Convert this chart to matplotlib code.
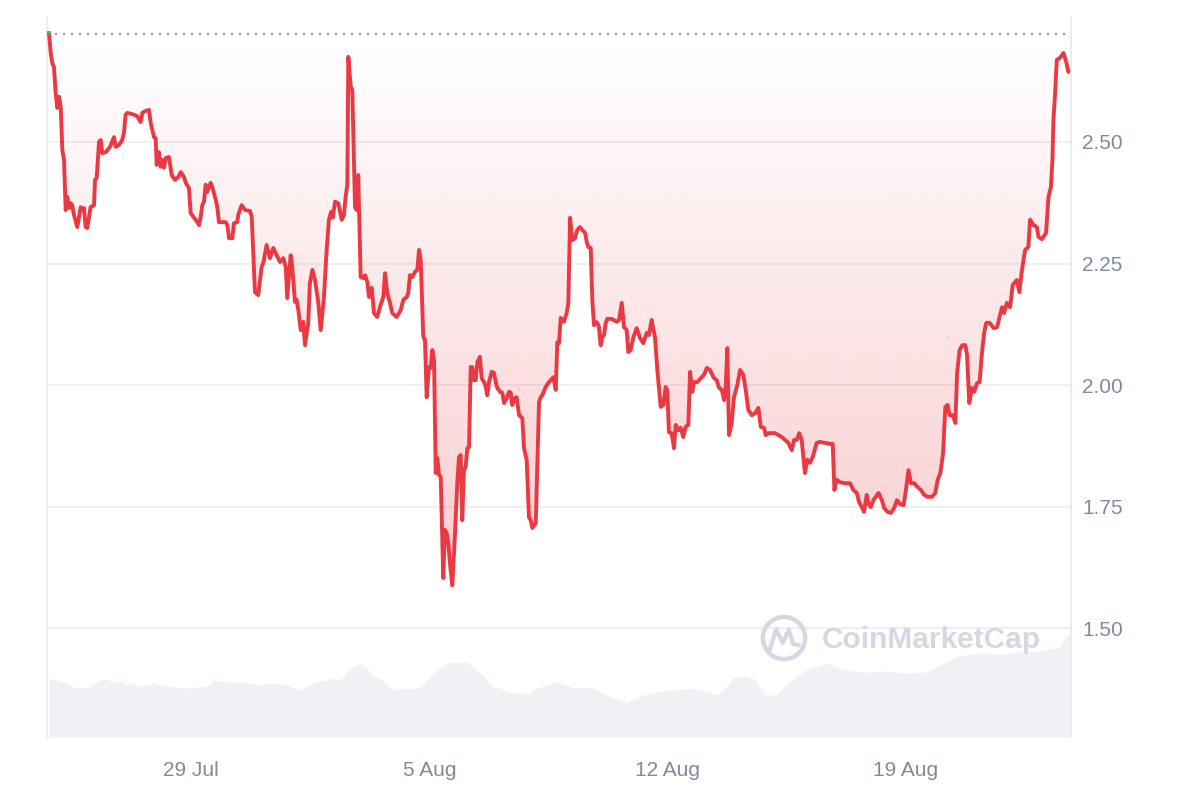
import numpy as np
import pandas as pd
import matplotlib
matplotlib.use("Agg")
import matplotlib.pyplot as plt
import matplotlib.dates as mdates
from matplotlib.patches import Polygon, Circle, Rectangle

# ---------------- data ----------------
start_time = pd.Timestamp("2024-07-24 19:30")

price_hours = [
    0.0, 1.2, 2.3, 3.5, 4.7, 5.9, 7.1, 8.3, 9.4, 10.6, 11.8, 12.9, 14.1, 15.3, 16.4, 17.6, 20.0, 22.4, 23.5, 24.7,
    25.9, 27.0, 29.4, 31.8, 32.5, 33.7, 35.3, 36.5, 37.6, 40.0, 43.1, 45.9, 47.1, 49.4, 51.7, 52.9, 54.1, 55.3, 57.7, 60.0,
    62.3, 64.7, 65.9, 68.3, 70.6, 71.8, 74.1, 75.3, 76.0, 77.6, 78.8, 80.0, 81.2, 82.4, 84.7, 86.6, 88.9, 91.3, 93.0, 95.3,
    96.5, 98.8, 100.0, 102.4, 104.7, 105.9, 107.1, 108.2, 109.4, 110.6, 111.7, 114.1, 115.3, 117.7, 118.8, 120.0, 122.3, 124.7, 125.9, 127.1,
    129.4, 130.6, 132.9, 133.6, 136.0, 138.4, 141.9, 143.1, 145.4, 147.7, 150.1, 151.3, 153.6, 156.0, 158.3, 160.7, 163.1, 165.4, 167.1, 168.2,
    170.6, 171.7, 173.6, 174.8, 176.0, 177.7, 179.5, 180.7, 183.0, 184.2, 185.9, 187.8, 190.1, 191.8, 194.1, 196.0, 197.6, 199.1, 200.3, 201.9,
    204.2, 206.6, 208.2, 209.4, 210.6, 211.3, 213.0, 214.1, 216.0, 217.2, 218.3, 220.0, 221.9, 223.1, 224.7, 225.9, 227.8, 229.4, 231.7, 233.6,
    236.0, 237.2, 238.8, 240.7, 242.3, 245.4, 248.3, 250.1, 252.5, 253.6, 254.8, 256.4, 258.4, 260.0, 261.2, 262.4, 264.2, 265.4, 266.6, 268.2,
    269.4, 270.6, 271.8, 273.0, 274.1, 275.3, 276.5, 278.3, 279.5, 280.7, 281.9, 283.1, 284.7, 286.6, 288.2, 289.4, 290.6, 291.7, 292.9, 294.1,
    295.3, 296.5, 297.7, 298.8, 300.0, 301.2, 302.4, 304.2, 305.4, 307.1, 308.3, 309.4, 310.6, 312.5, 314.1, 315.3, 316.4, 318.4, 320.0, 321.2,
    323.1, 324.7, 325.9, 327.0, 328.9, 330.1, 331.8, 334.1, 335.3, 337.2, 338.8, 340.0, 341.2, 343.6, 345.9, 347.1, 348.2, 350.6, 352.4, 354.1,
    356.0, 357.7, 358.8, 360.0, 361.2, 363.5, 365.4, 366.6, 367.8, 369.4, 371.3, 372.9, 374.8, 376.4, 378.4, 379.6, 380.7, 382.4, 383.5, 384.7,
    385.9, 387.0, 388.2, 389.4, 390.6, 391.8, 393.0, 394.1, 397.2, 400.8, 402.4, 404.3, 405.9, 407.8, 408.9, 410.6, 412.4, 414.8, 417.2, 419.5,
    421.9, 423.5, 425.4, 427.8, 429.4, 431.8, 433.6, 435.3, 436.4, 437.6, 439.5, 441.2, 442.4, 444.2, 445.9, 447.7, 449.4, 451.3, 452.5, 454.1,
    455.3, 457.6, 460.0, 462.4, 464.3, 466.6, 469.0, 471.3, 473.0, 474.9, 476.5, 477.7, 478.8, 480.0, 481.9, 483.5, 485.9, 487.8, 490.1, 491.8,
    493.6, 496.0, 498.4, 500.7, 502.4, 504.7, 505.9, 507.8, 510.2, 512.5, 514.8, 517.2, 519.5, 521.9, 524.3, 525.9, 527.8, 529.6, 531.3, 533.6,
    535.3, 537.2, 539.1, 541.9, 544.2, 547.8, 551.3, 553.2, 554.4, 556.0, 558.4, 561.9, 565.4, 567.8, 570.2, 571.8, 573.7, 575.3, 577.2, 578.4,
    580.1, 581.9, 585.5, 587.9, 589.5, 591.9, 594.3, 596.6, 598.5, 600.8, 603.2, 604.9, 606.7, 608.4, 610.8, 613.1, 615.5, 617.8, 620.2, 623.3,
    625.6, 627.3, 629.2, 631.1, 632.7, 634.3, 635.7, 637.9, 639.8, 641.0, 642.8, 644.7, 646.8, 648.0, 649.6, 651.5, 653.1, 655.1, 656.9, 658.6,
    660.2, 661.6, 664.0, 666.8, 669.2, 671.0, 672.7, 674.1, 676.2, 678.4, 680.3, 683.1, 685.0, 686.6, 689.0, 691.3, 692.5, 694.9, 697.3, 698.4,
    700.8, 703.8, 705.5, 707.2, 708.3, 709.0, 710.2, 711.4, 713.7, 716.1, 718.0, 719.6,
]

price_values = [
    2.724, 2.683, 2.663, 2.654, 2.601, 2.570, 2.593, 2.572, 2.484, 2.463, 2.360, 2.387, 2.364, 2.374, 2.370, 2.350, 2.325, 2.366, 2.360, 2.364,
    2.325, 2.323, 2.366, 2.370, 2.422, 2.426, 2.500, 2.504, 2.477, 2.479, 2.490, 2.510, 2.490, 2.494, 2.504, 2.519, 2.556, 2.560, 2.558, 2.556,
    2.553, 2.541, 2.560, 2.564, 2.566, 2.539, 2.510, 2.508, 2.453, 2.479, 2.449, 2.463, 2.447, 2.467, 2.469, 2.432, 2.422, 2.428, 2.438, 2.428,
    2.416, 2.405, 2.354, 2.344, 2.335, 2.329, 2.346, 2.370, 2.377, 2.412, 2.397, 2.416, 2.407, 2.381, 2.366, 2.335, 2.335, 2.335, 2.329, 2.302,
    2.302, 2.333, 2.335, 2.350, 2.370, 2.360, 2.358, 2.346, 2.191, 2.185, 2.243, 2.251, 2.288, 2.261, 2.282, 2.267, 2.253, 2.261, 2.243, 2.179,
    2.267, 2.243, 2.171, 2.175, 2.154, 2.113, 2.130, 2.082, 2.128, 2.210, 2.237, 2.216, 2.169, 2.113, 2.181, 2.278, 2.340, 2.356, 2.344, 2.377,
    2.374, 2.340, 2.350, 2.387, 2.412, 2.675, 2.613, 2.607, 2.366, 2.360, 2.432, 2.222, 2.220, 2.226, 2.212, 2.181, 2.200, 2.148, 2.140, 2.160,
    2.181, 2.230, 2.189, 2.169, 2.148, 2.140, 2.154, 2.175, 2.181, 2.189, 2.226, 2.222, 2.233, 2.237, 2.278, 2.257, 2.099, 2.093, 1.975, 2.037,
    2.035, 2.072, 2.051, 1.819, 1.850, 1.815, 1.811, 1.603, 1.702, 1.695, 1.675, 1.630, 1.588, 1.695, 1.798, 1.852, 1.856, 1.722, 1.825, 1.831,
    1.870, 1.872, 2.037, 2.037, 2.010, 2.010, 2.047, 2.058, 2.014, 2.006, 1.996, 1.979, 2.006, 2.027, 2.025, 2.006, 1.994, 1.986, 1.984, 1.963,
    1.973, 1.986, 1.984, 1.959, 1.973, 1.975, 1.938, 1.932, 1.870, 1.846, 1.728, 1.722, 1.706, 1.716, 1.965, 1.975, 1.979, 1.996, 2.004, 2.010,
    2.016, 1.990, 2.088, 2.086, 2.138, 2.130, 2.148, 2.169, 2.344, 2.298, 2.302, 2.319, 2.325, 2.319, 2.313, 2.294, 2.284, 2.282, 2.175, 2.123,
    2.130, 2.128, 2.119, 2.082, 2.099, 2.103, 2.128, 2.136, 2.136, 2.130, 2.134, 2.169, 2.119, 2.113, 2.068, 2.072, 2.097, 2.117, 2.097, 2.086,
    2.107, 2.103, 2.134, 2.097, 2.031, 1.955, 1.959, 1.996, 1.990, 1.903, 1.901, 1.870, 1.918, 1.907, 1.912, 1.893, 1.914, 1.918, 2.027, 1.986,
    2.006, 2.006, 2.014, 2.021, 2.035, 2.031, 2.016, 2.010, 1.994, 1.990, 1.969, 1.996, 2.076, 1.897, 1.922, 1.975, 2.000, 2.031, 2.021, 1.990,
    1.949, 1.938, 1.942, 1.953, 1.914, 1.912, 1.897, 1.901, 1.901, 1.901, 1.897, 1.893, 1.887, 1.881, 1.866, 1.887, 1.887, 1.901, 1.887, 1.819,
    1.846, 1.840, 1.852, 1.881, 1.883, 1.881, 1.879, 1.879, 1.784, 1.805, 1.800, 1.798, 1.798, 1.784, 1.778, 1.759, 1.749, 1.739, 1.774, 1.757,
    1.749, 1.763, 1.778, 1.763, 1.747, 1.739, 1.737, 1.747, 1.763, 1.755, 1.753, 1.784, 1.825, 1.798, 1.798, 1.790, 1.784, 1.774, 1.770, 1.770,
    1.778, 1.805, 1.819, 1.860, 1.955, 1.959, 1.938, 1.938, 1.922, 2.025, 2.072, 2.082, 2.082, 2.062, 1.963, 1.994, 1.986, 2.004, 2.006, 2.068,
    2.109, 2.128, 2.128, 2.117, 2.119, 2.140, 2.160, 2.148, 2.169, 2.160, 2.206, 2.216, 2.191, 2.233, 2.278, 2.284, 2.340, 2.329, 2.325, 2.305,
    2.300, 2.313, 2.387, 2.407, 2.463, 2.545, 2.601, 2.669, 2.673, 2.683, 2.665, 2.644,
]

volume_hours = [
    0.0, 9.9, 16.9, 26.8, 36.0, 40.9, 44.5, 52.2, 55.1, 59.3, 64.2, 73.4, 78.4, 87.5, 99.5, 111.5, 115.8, 122.8, 129.9, 134.8,
    148.9, 158.1, 168.0, 172.2, 177.2, 186.4, 189.2, 196.2, 200.5, 205.4, 210.4, 214.6, 219.5, 224.5, 228.7, 233.6, 238.6, 242.8, 247.8, 252.7,
    256.9, 261.9, 266.8, 271.1, 276.0, 280.9, 285.2, 290.1, 295.1, 299.3, 304.2, 309.2, 313.4, 318.4, 323.3, 332.5, 337.4, 341.6, 346.6, 351.5,
    358.6, 371.3, 381.9, 391.1, 398.1, 408.0, 418.6, 429.2, 439.8, 455.3, 471.5, 479.3, 484.2, 491.3, 497.6, 505.4, 513.2, 518.8, 526.6, 534.4,
    549.9, 560.5, 576.0, 590.1, 604.2, 618.4, 628.9, 639.5, 655.1, 671.3, 685.4, 696.7, 702.4, 713.0, 717.9, 720.7,
]
# 24h volume, millions USD (approximate)
volume_values = [
    59, 55, 50, 49, 57, 58, 55, 56, 52, 54, 50, 54, 52, 50, 49, 51, 57, 56, 54, 55,
    52, 54, 52, 49, 47, 54, 56, 57, 59, 57, 65, 70, 74, 69, 60, 59, 52, 47, 48, 49,
    48, 50, 57, 64, 69, 74, 75, 74, 75, 70, 65, 57, 50, 49, 45, 44, 42, 47, 50, 52,
    55, 49, 50, 44, 39, 34, 42, 45, 47, 49, 42, 52, 60, 61, 58, 42, 42, 50, 60, 67,
    74, 67, 65, 66, 64, 65, 72, 80, 84, 83, 85, 85, 87, 90, 100, 104,
]

open_price = 2.722
y_ticks = [1.50, 1.75, 2.00, 2.25, 2.50]
y_tick_labels = ["1.50", "1.75", "2.00", "2.25", "2.50"]
x_tick_dates = ["2024-07-29", "2024-08-05", "2024-08-12", "2024-08-19"]
x_tick_labels = ["29 Jul", "5 Aug", "12 Aug", "19 Aug"]

# ---------------- style ----------------
RED = "#ea3943"
GREEN = "#16c784"
TEXT = "#808a9d"
GRID = "#efefef"
VOL = "#eff1f5"
WATER = "#d3d8e3"
plt.rcParams["font.family"] = ["Liberation Sans", "DejaVu Sans"]

fig = plt.figure(figsize=(12, 8), dpi=100)
pos = [47 / 1200, 63 / 800, 1024 / 1200, 719 / 800]

axv = fig.add_axes(pos)
ax = fig.add_axes(pos, sharex=axv)
ax.set_facecolor("none")

xp = mdates.date2num(start_time + pd.to_timedelta(price_hours, unit="h"))
pv = np.array(price_values)
xv = mdates.date2num(start_time + pd.to_timedelta(volume_hours, unit="h"))

# volume area
axv.fill_between(xv, volume_values, 0, color=VOL, lw=0, zorder=1)
axv.set_ylim(0, 720)
axv.set_yticks([])
for s in axv.spines.values():
    s.set_visible(False)
axv.tick_params(axis="x", length=0, labelbottom=False)

x0 = mdates.date2num(start_time - pd.Timedelta(hours=1.4))
x1 = mdates.date2num(start_time + pd.Timedelta(hours=721.4))

# gradient fill between price and opening price
clipped = np.minimum(pv, open_price)
verts = np.vstack([np.column_stack([xp, clipped]),
                   np.column_stack([xp[::-1], np.full(len(xp), open_price)])])
poly = Polygon(verts, closed=True, facecolor="none", edgecolor="none",
               transform=ax.transData)
ax.add_patch(poly)
n = 256
grad = np.zeros((n, 1, 4))
grad[..., 0] = 234 / 255
grad[..., 1] = 57 / 255
grad[..., 2] = 67 / 255
grad[:, 0, 3] = np.linspace(0.25, 0.0, n)
im = ax.imshow(grad, extent=[xp[0], xp[-1], pv.min(), open_price], origin="lower",
               aspect="auto", zorder=2, interpolation="bilinear")
im.set_clip_path(poly)

# price line (red below open, green above)
ax.plot(xp, pv, color=RED, lw=2.8, solid_joinstyle="round", solid_capstyle="round", zorder=4)
g, = ax.plot(xp, pv, color=GREEN, lw=2.8, solid_joinstyle="round", zorder=5)
clip_rect = Rectangle((x0, open_price), x1 - x0, 1.0, transform=ax.transData)
g.set_clip_path(clip_rect)

# opening price dotted line
ax.axhline(open_price, color="#9a9a9a", lw=1.6, ls=(0, (1, 2.6)), zorder=3)

ax.set_xlim(x0, x1)
ax.set_ylim(1.276, 2.755)

# grid and ticks
ax.set_yticks(y_ticks)
ax.set_yticklabels(y_tick_labels)
ax.yaxis.tick_right()
ax.grid(axis="y", color=GRID, lw=1.3, zorder=0)
ax.set_axisbelow(True)
ax.set_xticks(mdates.date2num(pd.to_datetime(x_tick_dates)))
ax.set_xticklabels(x_tick_labels)
ax.tick_params(axis="y", length=0, pad=8, labelsize=15, labelcolor=TEXT)
ax.tick_params(axis="x", length=0, pad=17, labelsize=15, labelcolor=TEXT)
for side in ["top", "bottom"]:
    ax.spines[side].set_visible(False)
for side in ["left", "right"]:
    ax.spines[side].set_color("#ececec")
    ax.spines[side].set_linewidth(1.5)

# watermark
fig.text(822 / 1200, 1 - 640 / 800, "CoinMarketCap", color=WATER, fontsize=21.5,
         fontweight="bold", va="center", ha="left", zorder=10)
lax = fig.add_axes([760 / 1200, 1 - 662 / 800, 48 / 1200, 48 / 800])
lax.set_xlim(-1, 1)
lax.set_ylim(-1, 1)
lax.set_aspect("equal")
lax.axis("off")
lax.add_patch(Circle((0, 0), 0.88, fill=False, lw=3.2, edgecolor=WATER))
lax.plot([-0.6, -0.32, -0.05, 0.2, 0.38, 0.62], [-0.5, 0.35, -0.2, 0.35, -0.25, -0.3],
         color=WATER, lw=3.0, solid_joinstyle="round", solid_capstyle="round")

fig.savefig("out.png", dpi=100)
